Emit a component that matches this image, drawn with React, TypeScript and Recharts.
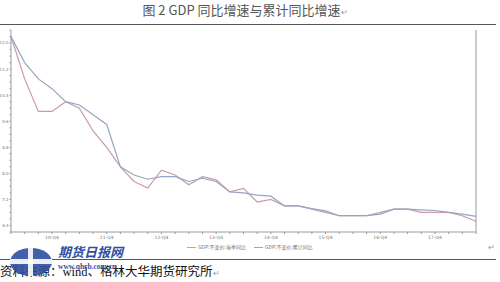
import { LineChart, Line, XAxis, YAxis, CartesianGrid, Legend } from 'recharts';

// China GDP at constant prices, yoy %, 2010Q1 - 2018Q3
const quarters = [
  '10-Q1', '10-Q2', '10-Q3', '10-Q4',
  '11-Q1', '11-Q2', '11-Q3', '11-Q4',
  '12-Q1', '12-Q2', '12-Q3', '12-Q4',
  '13-Q1', '13-Q2', '13-Q3', '13-Q4',
  '14-Q1', '14-Q2', '14-Q3', '14-Q4',
  '15-Q1', '15-Q2', '15-Q3', '15-Q4',
  '16-Q1', '16-Q2', '16-Q3', '16-Q4',
  '17-Q1', '17-Q2', '17-Q3', '17-Q4',
  '18-Q1', '18-Q2', '18-Q3',
];

const quarterlyYoy = [
  12.2, 10.9, 9.9, 9.9,
  10.2, 10.0, 9.3, 8.8,
  8.2, 7.75, 7.55, 8.1,
  7.95, 7.65, 7.9, 7.8,
  7.43, 7.54, 7.12, 7.2,
  7.0, 7.0, 6.9, 6.8,
  6.7, 6.7, 6.7, 6.8,
  6.9, 6.9, 6.8, 6.8,
  6.8, 6.7, 6.53,
];

const cumulativeYoy = [
  12.2, 11.4, 10.9, 10.6,
  10.2, 10.1, 9.8, 9.5,
  8.2, 7.95, 7.82, 7.9,
  7.9, 7.75, 7.85, 7.75,
  7.43, 7.4, 7.33, 7.3,
  7.0, 7.0, 6.92, 6.85,
  6.7, 6.7, 6.7, 6.75,
  6.9, 6.9, 6.88, 6.86,
  6.8, 6.75, 6.68,
];

const majorTicks = [6.4, 7.2, 8.0, 8.8, 9.6, 10.4, 11.2, 12.0];
const minorTicks = [
  6.2, 6.4, 6.6, 6.8, 7.0, 7.2, 7.4, 7.6, 7.8, 8.0, 8.2, 8.4, 8.6, 8.8, 9.0, 9.2,
  9.4, 9.6, 9.8, 10.0, 10.2, 10.4, 10.6, 10.8, 11.0, 11.2, 11.4, 11.6, 11.8, 12.0, 12.2, 12.4,
];

const seriesNames = ['GDP:不变价:当季同比', 'GDP:不变价:累计同比'];
const seriesColors = ['#c99ba7', '#98a4c4'];

const data = quarters.map((q, i) => ({
  q,
  quarterly: quarterlyYoy[i],
  cumulative: cumulativeYoy[i],
}));

const isMajor = (v: number) => majorTicks.some((m) => Math.abs(m - v) < 0.001);
const tickStyle = { fontSize: 4.5, fill: '#777', fontFamily: 'DejaVu Sans' };
const yTickStyle = { fontSize: 4, fill: '#777', fontFamily: 'DejaVu Sans' };

function TinyLegend() {
  return (
    <div style={{ display: 'flex', justifyContent: 'center', gap: 8, fontSize: 5, color: '#777', fontFamily: 'Noto Sans CJK SC', lineHeight: '6px' }}>
      {seriesNames.map((n, i) => (
        <span key={n} style={{ display: 'flex', alignItems: 'center', gap: 2 }}>
          <span style={{ display: 'inline-block', width: 9, height: 1, background: seriesColors[i] }} />
          {n}
        </span>
      ))}
    </div>
  );
}

export default function App() {
  return (
    <div style={{ position: 'fixed', left: 0, top: 0, width: 500, height: 282, background: '#fff', overflow: 'hidden' }}>
      {/* title */}
      <div style={{ position: 'absolute', top: 2, left: 0, width: 490, textAlign: 'center', fontSize: 13, color: '#555', fontFamily: 'Noto Sans CJK SC', lineHeight: '16px' }}>
        图 2 GDP 同比增速与累计同比增速<span style={{ fontSize: 8, color: '#999' }}>↵</span>
      </div>
      <div style={{ position: 'absolute', top: 24, left: 0, width: 496, height: 1, background: '#555' }} />

      <div style={{ position: 'absolute', top: 24, left: 0 }}>
        <LineChart width={500} height={236} data={data} margin={{ top: 6, right: 0, left: 0, bottom: 0 }}>
          <CartesianGrid vertical={false} stroke="#e6e6e6" horizontalValues={majorTicks} />
          <XAxis
            dataKey="q"
            interval={0}
            tickSize={2}
            height={12}
            stroke="#999"
            tick={tickStyle}
            tickFormatter={(v: string) => (v.endsWith('Q4') ? v : '')}
          />
          <YAxis
            yAxisId="l"
            domain={[6.2, 12.4]}
            ticks={minorTicks}
            interval={0}
            width={11}
            tickSize={1.5}
            tickMargin={1}
            stroke="#999"
            tick={yTickStyle}
            tickFormatter={(v: number) => (isMajor(v) ? v.toFixed(1) : '')}
          />
          <YAxis
            yAxisId="r"
            orientation="right"
            domain={[6.2, 12.4]}
            ticks={minorTicks}
            interval={0}
            width={24}
            tickSize={1.5}
            tickMargin={2}
            stroke="#999"
            tick={yTickStyle}
            tickFormatter={(v: number) => (isMajor(v) ? v.toFixed(1) : '')}
          />
          <Legend verticalAlign="bottom" height={16} content={<TinyLegend />} />
          <Line yAxisId="l" type="linear" dataKey="quarterly" name={seriesNames[0]} stroke={seriesColors[0]} strokeWidth={1.2} dot={false} isAnimationActive={false} />
          <Line yAxisId="l" type="linear" dataKey="cumulative" name={seriesNames[1]} stroke={seriesColors[1]} strokeWidth={1.2} dot={false} isAnimationActive={false} />
        </LineChart>
      </div>

      <div style={{ position: 'absolute', top: 243, left: 488, fontSize: 8, color: '#999' }}>↵</div>
      <div style={{ position: 'absolute', top: 259, left: 0, width: 496, height: 1, background: '#555' }} />

      {/* source line */}
      <div style={{ position: 'absolute', top: 262, left: 0, fontSize: 12.5, color: '#111', fontFamily: 'Noto Sans CJK SC', lineHeight: '18px', whiteSpace: 'nowrap' }}>
        资料来源：<span style={{ fontFamily: 'Liberation Serif' }}>wind</span>、格林大华期货研究所<span style={{ fontSize: 8, color: '#999' }}>↵</span>
      </div>

      {/* watermark */}
      <svg width={150} height={42} style={{ position: 'absolute', left: 8, top: 240 }}>
        <ellipse cx={23} cy={22} rx={21} ry={14} fill="#2f4f9f" opacity={0.9} />
        <rect x={2} y={19} width={42} height={5} fill="#fff" opacity={0.9} />
        <rect x={20} y={8} width={5} height={28} fill="#fff" opacity={0.9} />
        <text x={50} y={17} fontSize={13} fontWeight={700} fontStyle="italic" fill="#2f4f9f" fontFamily="Noto Sans CJK SC">期货日报网</text>
        <text x={50} y={29} fontSize={7.5} fontWeight={700} fill="#2f4f9f" fontFamily="Liberation Serif">www.qhrb.com.cn</text>
      </svg>
    </div>
  );
}
